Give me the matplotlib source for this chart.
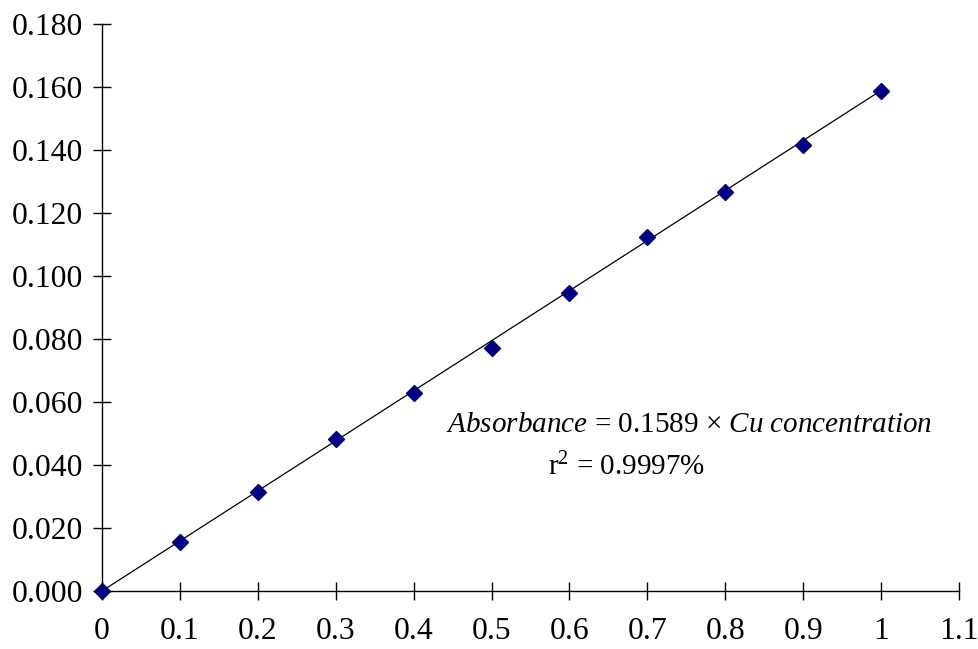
import matplotlib
matplotlib.use("Agg")
import matplotlib.pyplot as plt
import numpy as np

plt.rcParams['font.family'] = ['Liberation Serif', 'DejaVu Serif']
plt.rcParams['mathtext.fontset'] = 'custom'
plt.rcParams['mathtext.rm'] = 'Liberation Serif'
plt.rcParams['mathtext.it'] = 'Liberation Serif:italic'

# Data
cu_concentration = [0.0, 0.1, 0.2, 0.3, 0.4, 0.5, 0.6, 0.7, 0.8, 0.9, 1.0]
absorbance = [0.000, 0.0156, 0.0314, 0.0481, 0.0629, 0.0770,
              0.0945, 0.1123, 0.1268, 0.1416, 0.1586]
fit_slope = 0.1589
x_ticks = [0, 0.1, 0.2, 0.3, 0.4, 0.5, 0.6, 0.7, 0.8, 0.9, 1, 1.1]
x_tick_labels = ['0', '0.1', '0.2', '0.3', '0.4', '0.5', '0.6', '0.7', '0.8', '0.9', '1', '1.1']
y_ticks = [0.000, 0.020, 0.040, 0.060, 0.080, 0.100, 0.120, 0.140, 0.160, 0.180]
y_tick_labels = ['%.3f' % v for v in y_ticks]

W, H = 979, 649
fig = plt.figure(figsize=(W / 100, H / 100), dpi=100)
ax = fig.add_axes([102 / W, 1 - 591 / H, (959 - 102) / W, (591 - 24) / H])

x_fit = np.array([min(cu_concentration), max(cu_concentration)])
ax.plot(x_fit, fit_slope * x_fit, color='black', lw=0.9, zorder=2)
ax.plot(cu_concentration, absorbance, linestyle='none', marker='D',
        markersize=8.2, color='#000080', markeredgecolor='#000080', zorder=3,
        clip_on=False)

ax.set_xlim(0, 1.1)
ax.set_ylim(0, 0.18)
ax.set_xticks(x_ticks)
ax.set_xticklabels(x_tick_labels)
ax.set_yticks(y_ticks)
ax.set_yticklabels(y_tick_labels)

for s in ['top', 'right']:
    ax.spines[s].set_visible(False)
for s in ['left', 'bottom']:
    ax.spines[s].set_linewidth(1.0)
    ax.spines[s].set_color('black')

ax.tick_params(axis='both', direction='inout', length=13, width=1.0,
               labelsize=22.8, colors='black')
ax.tick_params(axis='y', pad=7)
ax.tick_params(axis='x', pad=12)

ax.text(0.7535, 0.0505,
        r'$\mathit{Absorbance}$ = 0.1589 × $\mathit{Cu\ concentration}$',
        fontsize=21, ha='center', va='baseline', transform=ax.transData)
ax.text(0.673, 0.0368, r'r$^{2}$ = 0.9997%', fontsize=21, ha='center',
        va='baseline', transform=ax.transData)

fig.savefig('out.png', dpi=100)
